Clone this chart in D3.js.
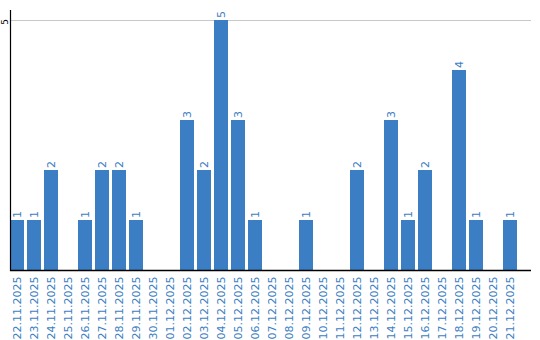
<!DOCTYPE html>
<html><head><meta charset="utf-8">
<script src="https://cdn.jsdelivr.net/npm/d3@7"></script>
<style>body{margin:0;background:#fff}svg{display:block}text{font-family:"DejaVu Sans",Verdana,sans-serif}</style>
</head><body><svg id="c" width="540" height="340"></svg>
<script>
const categories = ["22.11.2025","23.11.2025","24.11.2025","25.11.2025","26.11.2025","27.11.2025","28.11.2025","29.11.2025","30.11.2025","01.12.2025","02.12.2025","03.12.2025","04.12.2025","05.12.2025","06.12.2025","07.12.2025","08.12.2025","09.12.2025","10.12.2025","11.12.2025","12.12.2025","13.12.2025","14.12.2025","15.12.2025","16.12.2025","17.12.2025","18.12.2025","19.12.2025","20.12.2025","21.12.2025"];
const values = [1,1,2,0,1,2,2,1,0,0,3,2,5,3,1,0,0,1,0,0,2,0,3,1,2,0,4,1,0,1];
const yTicks = [5];

const svg = d3.select("#c");
const barColor = "#3b7ec3", textColor = "#3b7ec3";
const x = d3.scaleBand().domain(categories).range([10, 517]).paddingInner(3/17).paddingOuter(0).align(0);
const y = d3.scaleLinear().domain([0, 5]).range([270, 20]);

// gridlines
svg.selectAll(".grid").data(yTicks).join("line")
  .attr("x1", 11).attr("x2", 531).attr("y1", d => y(d)).attr("y2", d => y(d))
  .attr("stroke", "#c8c8c8").attr("stroke-width", 1).attr("shape-rendering", "crispEdges");

// bars
svg.selectAll(".bar").data(values.map((v,i)=>({c:categories[i], v}))).join("rect")
  .attr("x", d => x(d.c)).attr("width", x.bandwidth())
  .attr("y", d => y(d.v)).attr("height", d => y(0) - y(d.v))
  .attr("fill", barColor).attr("shape-rendering", "crispEdges");

// value labels
svg.selectAll(".vl").data(values.map((v,i)=>({c:categories[i], v})).filter(d => d.v > 0)).join("text")
  .attr("transform", d => `translate(${x(d.c) + x.bandwidth()/2 + 4},${y(d.v) - 2}) rotate(-90)`)
  .attr("font-size", 11).attr("fill", textColor).text(d => d.v);

// axes lines
svg.append("line").attr("x1", 10.5).attr("x2", 10.5).attr("y1", 10).attr("y2", 271).attr("stroke", "#000").attr("stroke-width", 1.2);
svg.append("line").attr("x1", 10).attr("x2", 531).attr("y1", 270.5).attr("y2", 270.5).attr("stroke", "#000").attr("stroke-width", 1.5);

// y tick labels
svg.selectAll(".yl").data(yTicks).join("text")
  .attr("transform", d => `translate(8,${y(d) + 2}) rotate(-90)`)
  .attr("text-anchor", "middle").attr("font-size", 9).attr("fill", "#000").text(d => d);

// x labels
svg.selectAll(".xl").data(categories).join("text")
  .attr("transform", d => `translate(${x(d) + x.bandwidth()/2 + 4},276.5) rotate(-90)`)
  .attr("text-anchor", "end").attr("font-size", 11).attr("fill", textColor).text(d => d);
</script></body></html>
